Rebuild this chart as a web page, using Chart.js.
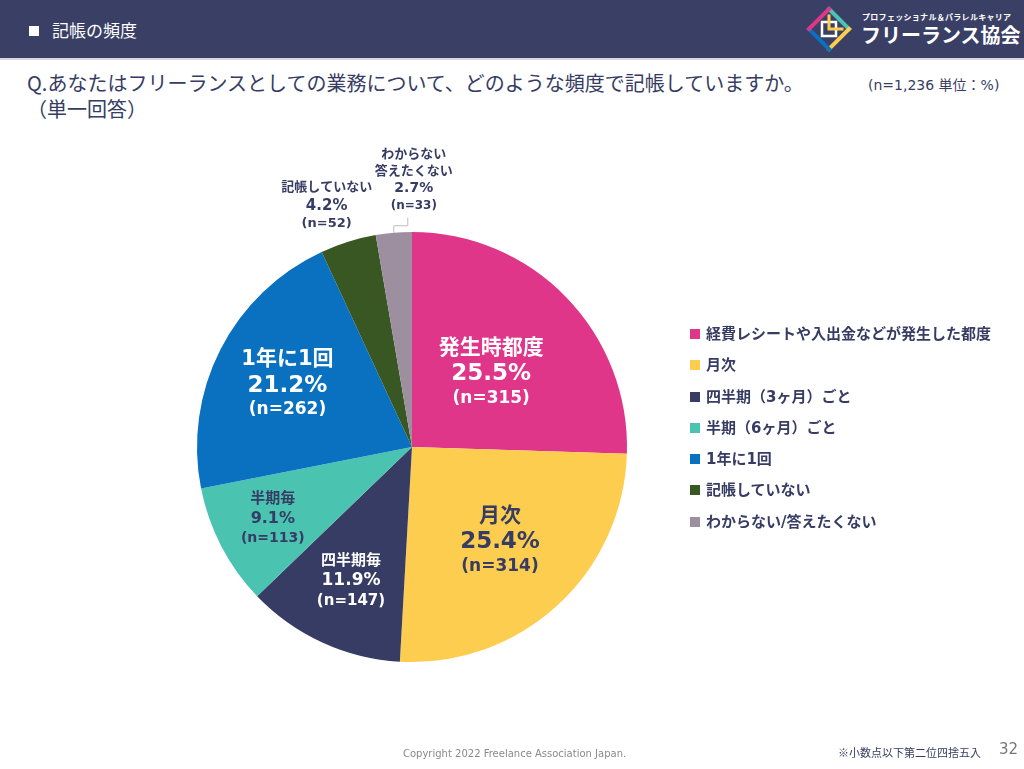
<!DOCTYPE html>
<html lang="ja">
<head>
<meta charset="UTF-8">
<title>記帳の頻度</title>
<script src="https://cdn.jsdelivr.net/npm/chart.js"></script>
<style>
  body { margin: 0; width: 1024px; height: 769px; position: relative; overflow: hidden; background: #fff;
         font-family: "Noto Sans CJK JP", "Noto Sans", sans-serif; color: #363c63; }
  .header { position: absolute; left: 0; top: 0; width: 1024px; height: 58px; background: #3a3f66; border-bottom: 2px solid #d6d6dc; }
  .header .sq { position: absolute; left: 29px; top: 26px; width: 10px; height: 10px; background: #fff; }
  .header .ttl { position: absolute; left: 52px; top: 17px; font-size: 17px; color: #fff; }
  .logo-sub { position: absolute; left: 862px; top: 11px; font-size: 8px; font-weight: bold; color: #fff; letter-spacing: 0.3px; }
  .logo-main { position: absolute; left: 861px; top: 20px; font-size: 20px; font-weight: bold; color: #fff; }
  .q { position: absolute; left: 27px; top: 70px; font-size: 20px; line-height: 26px; color: #363c63; }
  .n { position: absolute; left: 868px; top: 74px; font-size: 14px; color: #363c63; font-family: "DejaVu Sans", "Noto Sans CJK JP", sans-serif; }
  #chartWrap { position: absolute; left: 0; top: 140px; width: 824px; height: 614px; }
  #legend { position: absolute; left: 690px; top: 322px; font-family: "DejaVu Sans", "Noto Sans CJK JP", sans-serif; }
  #legend div { height: 31.3px; font-size: 15px; font-weight: bold; display: flex; align-items: flex-start; }
  #legend span.box { display: inline-block; width: 10px; height: 10px; margin: 7px 6px 0 0; }
  .foot1 { position: absolute; left: 403px; top: 748px; font-size: 10px; color: #8a8a8a; font-family: "DejaVu Sans", sans-serif; }
  .foot2 { position: absolute; left: 838px; top: 744px; font-size: 11px; color: #363c63; }
  .page { position: absolute; left: 999px; top: 740px; font-size: 15px; color: #777; font-family: "DejaVu Sans", sans-serif; }
</style>
</head>
<body>
<div class="header">
  <div class="sq"></div>
  <div class="ttl">記帳の頻度</div>
  <svg style="position:absolute;left:806px;top:6px" width="46" height="46" viewBox="0 0 46 46">
    <g fill="none" stroke-width="4" stroke-linecap="square">
      <path d="M23 3 L43 23" stroke="#4bc3b1"/>
      <path d="M43 23 L23 43" stroke="#fdcd4f"/>
      <path d="M23 43 L3 23" stroke="#0a70c0"/>
      <path d="M3 23 L23 3" stroke="#e0368a"/>
      <path d="M16 16 L30 16 L30 30 L16 30 Z" stroke="#fff" stroke-width="2.5"/>
      <path d="M23 10 L23 23 L36 23" stroke="#fdcd4f" stroke-width="3"/>
    </g>
  </svg>
  <div class="logo-sub">プロフェッショナル＆パラレルキャリア</div>
  <div class="logo-main">フリーランス協会</div>
</div>
<div class="q">Q.あなたはフリーランスとしての業務について、どのような頻度で記帳していますか。<br>（単一回答）</div>
<div class="n">(n=1,236 単位：%)</div>
<div id="chartWrap"><canvas id="pie" width="824" height="614"></canvas></div>
<div id="legend"></div>
<div class="foot1">Copyright 2022 Freelance Association Japan.</div>
<div class="foot2">※小数点以下第二位四捨五入</div>
<div class="page">32</div>

<script>
const categories = ['経費レシートや入出金などが発生した都度', '月次', '四半期（3ヶ月）ごと', '半期（6ヶ月）ごと', '1年に1回', '記帳していない', 'わからない/答えたくない'];
const shortNames = ['発生時都度', '月次', '四半期毎', '半期毎', '1年に1回', '記帳していない', 'わからない\n答えたくない'];
const percents = [25.5, 25.4, 11.9, 9.1, 21.2, 4.2, 2.7];
const counts = [315, 314, 147, 113, 262, 52, 33];
const colors = ['#e0368a', '#fdcd4f', '#363c63', '#4bc3b1', '#0a70c0', '#385723', '#9e8fa0'];

// label style per slice: radius fraction, pixel offset, text colour, font sizes
const navy = '#363c63';
const labelStyle = [
  { r: 0.50, dx: 2, dy: 0, color: '#fff', sizes: [21, 23, 17] },
  { r: 0.62, dx: -2, dy: -5, color: navy, sizes: [21, 23, 17] },
  { r: 0.68, dx: 0, dy: 1, color: '#fff', sizes: [15, 17, 15] },
  { r: 0.73, dx: 0, dy: -1, color: navy, sizes: [15, 16, 14] },
  { r: 0.65, dx: 0, dy: 0, color: '#fff', sizes: [21, 23, 17] },
  { r: 1.18, dx: -10, dy: 1, color: navy, sizes: [13, 15, 13] },
  { r: 1.22, dx: 24, dy: -6, color: navy, sizes: [13, 14, 12], leader: true }
];

const sliceLabels = {
  id: 'sliceLabels',
  afterDatasetsDraw(chart) {
    const ctx = chart.ctx;
    const meta = chart.getDatasetMeta(0);
    meta.data.forEach((arc, i) => {
      const st = labelStyle[i];
      const mid = (arc.startAngle + arc.endAngle) / 2;
      const R = arc.outerRadius;
      const cx = arc.x + Math.cos(mid) * R * st.r + st.dx;
      const cy = arc.y + Math.sin(mid) * R * st.r + st.dy;
      const lines = shortNames[i].split('\n').map(t => ({ t, s: st.sizes[0] }));
      lines.push({ t: percents[i].toFixed(1) + '%', s: st.sizes[1] });
      lines.push({ t: '(n=' + counts[i] + ')', s: st.sizes[2] });
      const gap = 4;
      const total = lines.reduce((a, l) => a + l.s + gap, -gap);
      let y = cy - total / 2;
      ctx.save();
      ctx.fillStyle = st.color;
      ctx.textAlign = 'center';
      ctx.textBaseline = 'top';
      lines.forEach(l => {
        ctx.font = 'bold ' + l.s + 'px "DejaVu Sans", "Noto Sans CJK JP", sans-serif';
        ctx.fillText(l.t, cx, y);
        y += l.s + gap;
      });
      if (st.leader) {
        const px = arc.x + Math.cos(mid) * R;
        const py = arc.y + Math.sin(mid) * R;
        ctx.strokeStyle = '#bdbdbd';
        ctx.lineWidth = 1;
        ctx.beginPath();
        ctx.moveTo(px, py);
        ctx.lineTo(px, py - 7);
        ctx.lineTo(px + 14, py - 7);
        ctx.lineTo(px + 14, py - 15);
        ctx.stroke();
      }
      ctx.restore();
    });
  }
};

const chart = new Chart(document.getElementById('pie'), {
  type: 'pie',
  data: {
    labels: categories,
    datasets: [{ data: percents, backgroundColor: colors, borderWidth: 0 }]
  },
  options: {
    responsive: false,
    animation: false,
    layout: { padding: 92 },
    plugins: { legend: { display: false }, tooltip: { enabled: false } }
  },
  plugins: [sliceLabels]
});

const legendEl = document.getElementById('legend');
chart.data.labels.forEach((lab, i) => {
  const row = document.createElement('div');
  row.innerHTML = '<span class="box" style="background:' + colors[i] + '"></span>' + lab;
  legendEl.appendChild(row);
});
</script>
</body>
</html>
